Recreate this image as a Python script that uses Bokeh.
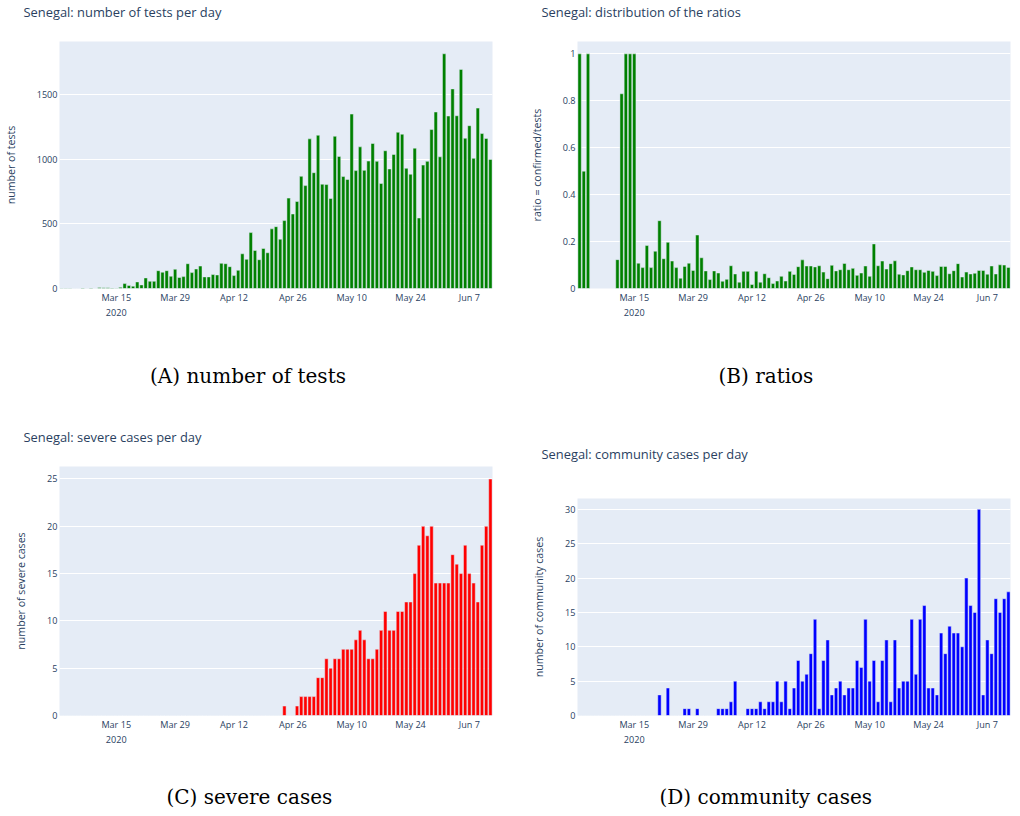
import pandas as pd
from bokeh.plotting import figure
from bokeh.models import (Range1d, FixedTicker, DatetimeTickFormatter, Title,
                          CustomJSTickFormatter, ColumnDataSource)
from bokeh.layouts import column, row
from bokeh.embed import file_html
from bokeh.resources import INLINE

NAN = float("nan")

# ---------------- data ----------------
dates = pd.date_range("2020-03-02", "2020-06-12", freq="D")

tests = [
    # Mar 2 - Mar 16
    1, 2, 1, 0, 0, 3, 0, 4, 0, 8, 6, 6, 4, 2, 9,
    # Mar 17 - Mar 31
    38, 23, 18, 51, 28, 82, 56, 56, 138, 126, 138, 95, 149, 85, 92,
    # Apr 1 - Apr 30
    192, 123, 151, 174, 90, 90, 108, 105, 195, 192, 169, 100, 141, 269, 226,
    433, 295, 223, 310, 277, 462, 479, 382, 526, 700, 577, 674, 869, 797, 1159,
    # May 1 - May 31
    897, 1187, 808, 805, 697, 1179, 1023, 867, 844, 1351, 913, 1097, 915, 987, 1123,
    985, 813, 1067, 926, 1038, 1210, 1195, 931, 885, 1087, 546, 956, 985, 1231, 1367, 1020,
    # Jun 1 - Jun 12
    1818, 1336, 1546, 1338, 1697, 1164, 1261, 1008, 1397, 1200, 1162, 1000,
]

ratios = [
    1, 0.5, 1, NAN, NAN, NAN, NAN, NAN, NAN, 0.123, 0.83, 1, 1, 1, 0.108,
    0.089, 0.183, 0.089, 0.159, 0.289, 0.127, 0.197, 0.117, 0.089, 0.044, 0.094, 0.108, 0.077, 0.228, 0.131,
    0.075, 0.038, 0.075, 0.066, 0.031, 0.039, 0.097, 0.062, 0.027, 0.073, 0.073, 0.017, 0.073, 0.027, 0.063,
    0.046, 0.021, 0.032, 0.052, 0.032, 0.073, 0.06, 0.093, 0.122, 0.096, 0.096, 0.092, 0.097, 0.07, 0.042,
    0.099, 0.075, 0.08, 0.107, 0.08, 0.086, 0.056, 0.066, 0.096, 0.052, 0.19, 0.097, 0.117, 0.083, 0.106,
    0.118, 0.061, 0.058, 0.076, 0.092, 0.08, 0.08, 0.069, 0.077, 0.073, 0.055, 0.094, 0.094, 0.063, 0.076, 0.106,
    0.049, 0.07, 0.062, 0.065, 0.077, 0.077, 0.061, 0.096, 0.062, 0.101, 0.1, 0.09,
]

severe = (
    [0] * 30 +  # Mar 2 - Mar 31
    [0] * 23 +  # Apr 1 - Apr 23
    [1, 0, 0, 1, 2, 2, 2] +  # Apr 24 - Apr 30
    [2, 4, 4, 6, 5, 6, 6, 7, 7, 7, 8, 9, 8, 6, 6, 7, 9, 11, 9, 9,
     11, 11, 12, 12, 15, 18, 20, 19, 20, 14, 14] +  # May
    [14, 14, 17, 16, 15, 18, 15, 14, 12, 18, 20, 25]  # Jun 1 - 12
)

community = (
    [0] * 19 +  # Mar 2 - Mar 20
    [3, 0, 4, 0, 0, 0, 1, 1, 0, 1, 0] +  # Mar 21 - Mar 31
    [0, 0, 0, 1, 1, 1, 2, 5, 0, 0, 1, 1, 1, 2, 1, 2, 2, 5, 2, 5,
     1, 4, 8, 5, 6, 9, 14, 1, 8, 11] +  # Apr
    [3, 4, 5, 3, 4, 4, 8, 7, 14, 5, 8, 2, 8, 11, 2, 11, 4, 5, 5, 14,
     6, 14, 16, 4, 4, 3, 12, 9, 13, 12, 12] +  # May
    [10, 20, 16, 15, 30, 3, 11, 9, 17, 15, 17, 18]  # Jun 1 - 12
)

x_tick_dates = ["2020-03-15", "2020-03-29", "2020-04-12", "2020-04-26",
                "2020-05-10", "2020-05-24", "2020-06-07"]
ticks_tests = [0, 500, 1000, 1500]
ticks_ratio = [0, 0.2, 0.4, 0.6, 0.8, 1]
ticks_severe = [0, 5, 10, 15, 20, 25]
ticks_comm = [0, 5, 10, 15, 20, 25, 30]

# ---------------- styling ----------------
TXT = "#2a3f5f"
BG = "#E5ECF6"
DAY_MS = 86400000
x_start = dates[0] - pd.Timedelta(hours=12)
x_end = dates[-1] + pd.Timedelta(hours=12)
x_ticks_ms = [pd.Timestamp(d).value / 1e6 for d in x_tick_dates]


def set_if(obj, **kw):
    props = obj.properties()
    for k, v in kw.items():
        if k in props:
            setattr(obj, k, v)


def spacer(h):
    s = Title(text=" ", text_font_size="1px", text_color="white")
    set_if(s, standoff=max(h - 3, 0))
    return s


def panel(width, height, bl, br, bt, bb, ymax, yticks, ylabel, title, caption,
          color, values, top_gap, bottom_gap, cap_offset, yfmt=None):
    p = figure(width=width, height=height, x_axis_type="datetime",
               x_range=Range1d(x_start, x_end), y_range=Range1d(0, ymax),
               output_backend="svg", toolbar_location=None,
               min_border_left=bl, min_border_right=br,
               min_border_top=bt, min_border_bottom=bb)
    p.background_fill_color = BG
    p.border_fill_color = "white"
    p.outline_line_color = None
    p.xgrid.visible = False
    p.ygrid.grid_line_color = "white"
    p.ygrid.grid_line_width = 1

    src = ColumnDataSource(dict(x=dates, top=values))
    p.vbar(x="x", top="top", width=0.8 * DAY_MS, source=src,
           fill_color=color, line_color=BG, line_width=0.5)

    xa = p.xaxis[0]
    xa.ticker = FixedTicker(ticks=x_ticks_ms)
    fmt_ctx = DatetimeTickFormatter(days="%Y", months="%Y", years="%Y",
                                    hours="%Y", minutes="%Y")
    xa.formatter = DatetimeTickFormatter(days="%b %-d", months="%b %-d",
                                         years="%b %-d", hours="%b %-d",
                                         context=fmt_ctx, context_which="start")
    ya = p.yaxis[0]
    ya.ticker = FixedTicker(ticks=yticks)
    if yfmt is not None:
        ya.formatter = yfmt
    for ax in (xa, ya):
        ax.axis_line_color = None
        ax.major_tick_line_color = None
        ax.minor_tick_line_color = None
        ax.major_tick_out = 0
        ax.minor_tick_out = 0
        ax.major_tick_in = 0
        ax.minor_tick_in = 0
        ax.major_label_text_font = "Open Sans"
        ax.major_label_text_font_size = "9.1px"
        ax.major_label_text_color = TXT
        ax.major_label_standoff = 2
    ya.axis_label = ylabel
    ya.axis_label_text_font = "Open Sans"
    ya.axis_label_text_font_size = "10.6px"
    ya.axis_label_text_font_style = "normal"
    ya.axis_label_text_color = TXT
    ya.axis_label_standoff = 16

    p.title.text = ""
    # title above the frame (spacer first = closest to frame)
    p.add_layout(spacer(top_gap), "above")
    t = Title(text=title, align="left", offset=-36, text_font="Open Sans",
              text_font_size="12.9px", text_font_style="normal", text_color=TXT)
    set_if(t, standoff=0)
    p.add_layout(t, "above")

    # caption below the x axis
    p.add_layout(spacer(bottom_gap), "below")
    c = Title(text=caption, align="left", offset=cap_offset,
              text_font="DejaVu Serif", text_font_size="20px",
              text_font_style="normal", text_color="black")
    set_if(c, standoff=0)
    p.add_layout(c, "below")
    return p


ratio_fmt = CustomJSTickFormatter(code="return String(tick);")

pA = panel(515, 410, 57, 23, 39, 122, 1913, ticks_tests, "number of tests",
           "Senegal: number of tests per day", "(A) number of tests",
           "green", tests, 21, 39, 90.5)
pB = panel(503, 410, 62, 8, 39, 122, 1.0526, ticks_ratio, "ratio = confirmed/tests",
           "Senegal: distribution of the ratios", "(B) ratios",
           "green", ratios, 21, 39, 141, yfmt=ratio_fmt)
pC = panel(515, 404, 57, 23, 56, 99, 26.32, ticks_severe, "number of severe cases",
           "Senegal: severe cases per day", "(C) severe cases",
           "red", severe, 21, 33, 107)
pD = panel(503, 404, 62, 8, 88, 99, 31.58, ticks_comm, "number of community cases",
           "Senegal: community cases per day", "(D) community cases",
           "blue", community, 36, 33, 82)

layout = row(column(pA, pC), column(pB, pD))
open("out.html", "w").write(file_html(layout, INLINE))
